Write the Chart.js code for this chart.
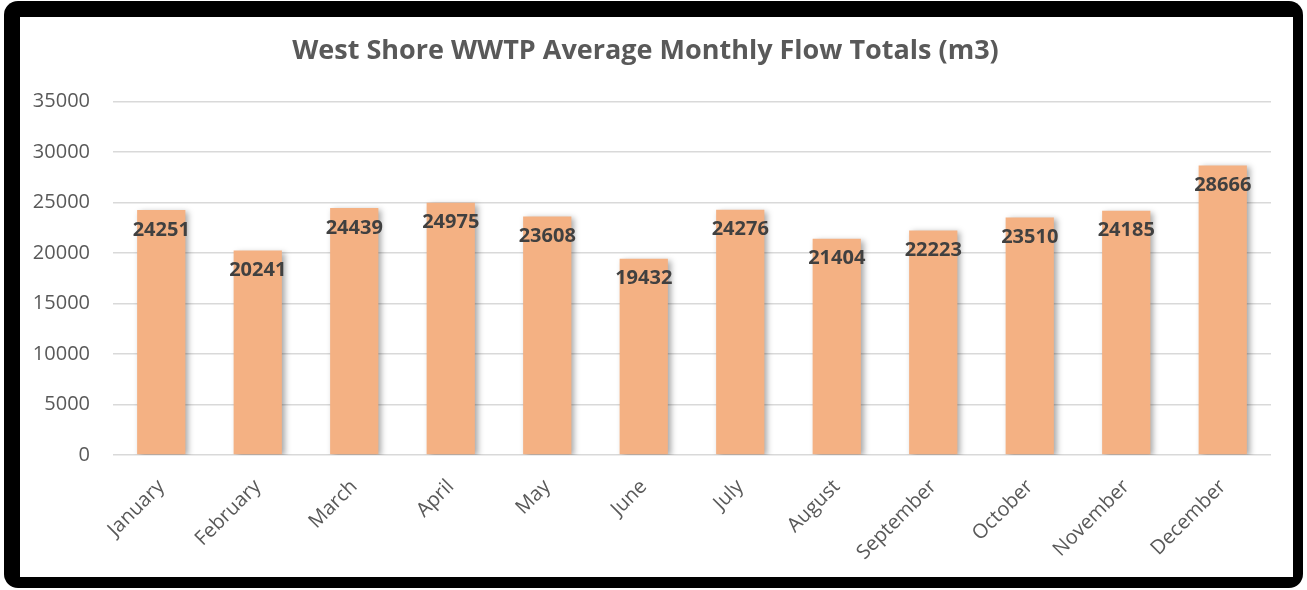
<!DOCTYPE html>
<html>
<head>
<meta charset="utf-8">
<script src="https://cdn.jsdelivr.net/npm/chart.js@4"></script>
<style>
  html, body { margin: 0; padding: 0; background: #ffffff; }
  /* black frame round the chart */
  .frame {
    position: absolute;
    left: 4px; top: 1px;
    width: 1299px; height: 587px;
    background: #000000;
    border-radius: 14px;
  }
  .inner {
    position: absolute;
    left: 16px; top: 16px;
    width: 1273px; height: 560px;
    background: #ffffff;
  }
</style>
</head>
<body>
<div class="frame">
  <div class="inner">
    <canvas id="flowChart" width="1273" height="560"></canvas>
  </div>
</div>
<script>
// data
const months = ['January', 'February', 'March', 'April', 'May', 'June',
  'July', 'August', 'September', 'October', 'November', 'December'];
const flowTotals = [24251, 20241, 24439, 24975, 23608, 19432,
  24276, 21404, 22223, 23510, 24185, 28666];
const yTicks = [0, 5000, 10000, 15000, 20000, 25000, 30000, 35000];

const FONT = "'Open Sans', sans-serif";

// soft shadow behind the bars, like the Excel original
const barShadow = {
  id: 'barShadow',
  beforeDatasetsDraw(chart) {
    const ctx = chart.ctx;
    ctx.save();
    ctx.shadowColor = 'rgba(0,0,0,0.35)';
    ctx.shadowBlur = 6;
    ctx.shadowOffsetX = 3;
    ctx.shadowOffsetY = 2;
  },
  afterDatasetsDraw(chart) {
    chart.ctx.restore();
  }
};

// value labels inside the top of each bar
const barLabels = {
  id: 'barLabels',
  afterDatasetsDraw(chart) {
    const ctx = chart.ctx;
    const meta = chart.getDatasetMeta(0);
    ctx.save();
    ctx.font = 'bold 20px ' + FONT;
    ctx.fillStyle = '#404040';
    ctx.textAlign = 'center';
    ctx.textBaseline = 'middle';
    meta.data.forEach((bar, i) => {
      ctx.fillText(String(flowTotals[i]), bar.x, bar.y + 20);
    });
    ctx.restore();
  }
};

new Chart(document.getElementById('flowChart'), {
  type: 'bar',
  data: {
    labels: months,
    datasets: [{
      data: flowTotals,
      backgroundColor: '#F4B183',
      borderWidth: 0,
      categoryPercentage: 1.0,
      barPercentage: 0.5
    }]
  },
  options: {
    responsive: false,
    animation: false,
    layout: { padding: { left: 0, right: 22, top: 0, bottom: 0 } },
    plugins: {
      legend: { display: false },
      tooltip: { enabled: false },
      title: {
        display: true,
        text: 'West Shore WWTP Average Monthly Flow Totals (m3)',
        color: '#595959',
        font: { family: FONT, size: 27, weight: 'bold' },
        padding: { top: 18, bottom: 34 }
      }
    },
    scales: {
      x: {
        afterFit: (scale) => { scale.height = 122; },
        grid: { display: false, drawTicks: false },
        border: { display: false },
        ticks: {
          color: '#595959',
          font: { family: FONT, size: 20 },
          minRotation: 45,
          maxRotation: 45,
          padding: 20
        }
      },
      y: {
        min: 0,
        max: 35000,
        afterBuildTicks: (scale) => {
          scale.ticks = yTicks.map(v => ({ value: v }));
        },
        afterFit: (scale) => { scale.width = 93; },
        grid: { color: '#d9d9d9', lineWidth: 1.5, drawTicks: false },
        border: { display: false },
        ticks: {
          color: '#595959',
          font: { family: FONT, size: 20 },
          padding: 23,
          callback: (v) => String(v)
        }
      }
    }
  },
  plugins: [barShadow, barLabels]
});
</script>
</body>
</html>
